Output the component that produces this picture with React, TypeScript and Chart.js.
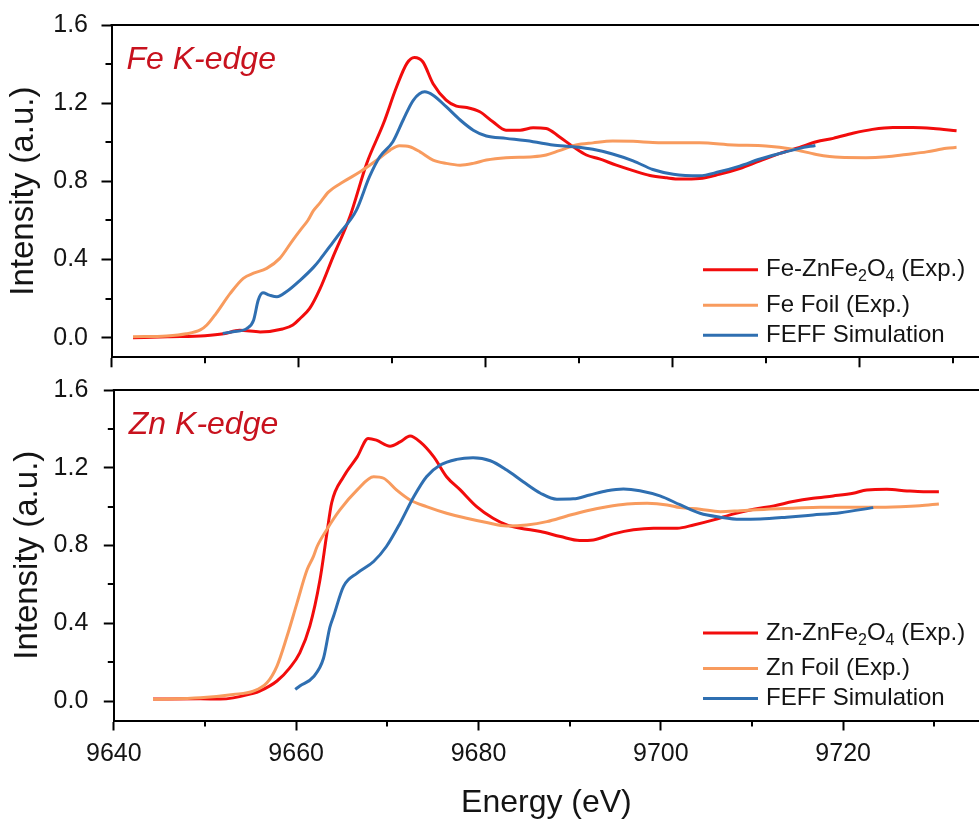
import React, { useEffect, useRef } from 'react';
import { Chart, registerables } from 'chart.js';

Chart.register(...registerables);

// ---- axis settings ----
const X_MIN = 9640;
const TOP_X_MAX = 9732.8;
const BOTTOM_X_MAX = 9734.9;
const X_STEP = 10;
const X_MAJOR = 20;
const Y_MIN = -0.1;
const Y_MAX = 1.6;
const Y_STEP = 0.2;
const Y_MAJOR = 0.4;

// ---- Fe K-edge panel ----
const FE_SAMPLE_E = [9642.3, 9646.0, 9650.0, 9652.0, 9653.7, 9655.9, 9658.3, 9659.4, 9660.2, 9661.2, 9662.3, 9663.7, 9665.5, 9667.3, 9669.1, 9670.5, 9671.6, 9672.4, 9673.3, 9674.4, 9675.8, 9676.9, 9678.0, 9679.4, 9680.8, 9682.2, 9683.7, 9685.1, 9686.5, 9687.9, 9689.4, 9690.8, 9692.2, 9694.0, 9695.8, 9697.6, 9699.4, 9700.8, 9702.9, 9705.0, 9707.2, 9709.3, 9711.5, 9713.6, 9715.4, 9717.2, 9719.3, 9721.4, 9723.6, 9725.7, 9727.9, 9730.4];
const FE_SAMPLE_I = [0.000, 0.005, 0.010, 0.020, 0.038, 0.030, 0.045, 0.065, 0.100, 0.150, 0.250, 0.414, 0.619, 0.892, 1.097, 1.284, 1.404, 1.434, 1.412, 1.300, 1.216, 1.185, 1.178, 1.156, 1.105, 1.062, 1.062, 1.074, 1.071, 1.028, 0.977, 0.935, 0.915, 0.883, 0.855, 0.830, 0.818, 0.812, 0.815, 0.836, 0.866, 0.904, 0.943, 0.974, 1.003, 1.020, 1.046, 1.066, 1.076, 1.076, 1.071, 1.059];

const FE_FOIL_E = [9642.3, 9645.9, 9648.0, 9649.5, 9650.2, 9651.2, 9652.7, 9654.1, 9655.2, 9656.6, 9658.0, 9659.4, 9660.2, 9661.0, 9661.6, 9662.3, 9663.2, 9664.8, 9666.6, 9668.4, 9669.8, 9670.8, 9671.9, 9673.0, 9674.4, 9675.8, 9677.3, 9678.7, 9680.1, 9682.2, 9685.1, 9686.5, 9687.9, 9689.7, 9691.5, 9693.6, 9695.8, 9697.9, 9700.8, 9702.9, 9706.5, 9710.0, 9712.9, 9715.4, 9717.9, 9720.7, 9722.9, 9725.0, 9727.2, 9729.3, 9730.4];
const FE_FOIL_I = [0.005, 0.009, 0.020, 0.040, 0.065, 0.125, 0.227, 0.304, 0.330, 0.355, 0.406, 0.500, 0.551, 0.600, 0.650, 0.690, 0.745, 0.798, 0.849, 0.909, 0.960, 0.982, 0.977, 0.951, 0.909, 0.892, 0.883, 0.892, 0.909, 0.921, 0.926, 0.935, 0.957, 0.986, 0.997, 1.006, 1.005, 0.999, 0.997, 0.997, 0.986, 0.981, 0.964, 0.938, 0.923, 0.921, 0.926, 0.938, 0.951, 0.969, 0.974];

const FE_FEFF_E = [9651.9, 9653.0, 9654.5, 9655.2, 9655.7, 9656.2, 9656.9, 9657.7, 9658.7, 9660.2, 9661.6, 9662.3, 9663.4, 9664.4, 9666.2, 9667.6, 9668.7, 9670.1, 9671.2, 9672.3, 9673.5, 9674.4, 9675.8, 9677.3, 9678.7, 9680.1, 9682.2, 9685.1, 9687.2, 9689.4, 9691.5, 9693.6, 9695.8, 9697.9, 9700.1, 9702.9, 9705.0, 9707.2, 9709.3, 9711.5, 9713.6, 9715.3];
const FE_FEFF_I = [0.022, 0.031, 0.048, 0.090, 0.193, 0.230, 0.218, 0.210, 0.235, 0.295, 0.360, 0.400, 0.470, 0.534, 0.653, 0.824, 0.926, 1.003, 1.114, 1.216, 1.258, 1.241, 1.182, 1.114, 1.062, 1.032, 1.020, 1.003, 0.986, 0.977, 0.964, 0.940, 0.905, 0.861, 0.837, 0.829, 0.849, 0.878, 0.913, 0.943, 0.969, 0.984];

// ---- Zn K-edge panel ----
const ZN_SAMPLE_E = [9644.3, 9649.5, 9651.7, 9655.3, 9656.0, 9657.9, 9659.3, 9660.4, 9661.5, 9662.6, 9663.35, 9663.9, 9665.2, 9666.7, 9667.9, 9668.8, 9670.3, 9671.4, 9672.5, 9673.6, 9675.1, 9676.5, 9678.0, 9679.8, 9681.6, 9683.1, 9684.6, 9686.8, 9689.0, 9691.1, 9692.6, 9694.8, 9697.0, 9699.2, 9701.8, 9703.6, 9705.8, 9708.0, 9710.2, 9712.4, 9714.5, 9716.7, 9718.9, 9721.1, 9722.6, 9724.8, 9727.0, 9728.8, 9730.5];
const ZN_SAMPLE_I = [0.010, 0.012, 0.010, 0.040, 0.051, 0.103, 0.171, 0.248, 0.385, 0.620, 0.855, 1.020, 1.154, 1.256, 1.351, 1.342, 1.311, 1.333, 1.363, 1.333, 1.256, 1.154, 1.086, 1.000, 0.940, 0.906, 0.889, 0.872, 0.846, 0.826, 0.829, 0.860, 0.881, 0.889, 0.889, 0.906, 0.932, 0.963, 0.987, 1.004, 1.026, 1.043, 1.055, 1.069, 1.086, 1.089, 1.081, 1.077, 1.077];

const ZN_FOIL_E = [9644.3, 9649.5, 9653.1, 9655.3, 9656.8, 9657.9, 9659.0, 9660.1, 9661.2, 9661.9, 9662.3, 9663.4, 9664.8, 9666.7, 9668.5, 9669.6, 9671.0, 9672.5, 9674.3, 9676.5, 9678.7, 9680.9, 9683.1, 9685.3, 9687.5, 9689.7, 9691.9, 9694.1, 9696.3, 9698.5, 9700.7, 9702.1, 9704.3, 9706.5, 9708.7, 9711.6, 9714.5, 9717.5, 9720.4, 9723.3, 9726.3, 9728.4, 9730.5];
const ZN_FOIL_I = [0.009, 0.017, 0.034, 0.051, 0.094, 0.180, 0.333, 0.505, 0.675, 0.744, 0.795, 0.885, 0.983, 1.086, 1.154, 1.146, 1.086, 1.034, 1.000, 0.966, 0.940, 0.918, 0.901, 0.906, 0.923, 0.952, 0.979, 1.000, 1.014, 1.017, 1.009, 0.995, 0.987, 0.974, 0.979, 0.987, 0.992, 0.997, 0.997, 0.997, 1.000, 1.005, 1.014];

const ZN_FEFF_E = [9659.9, 9660.4, 9661.9, 9663.0, 9663.7, 9664.1, 9665.2, 9666.7, 9668.5, 9669.9, 9671.4, 9672.9, 9674.3, 9675.8, 9677.6, 9679.4, 9681.3, 9683.1, 9684.9, 9686.8, 9688.6, 9690.4, 9692.2, 9694.1, 9695.9, 9697.7, 9699.9, 9702.1, 9704.3, 9706.5, 9708.7, 9710.9, 9713.8, 9716.7, 9719.7, 9723.3];
const ZN_FEFF_I = [0.060, 0.077, 0.125, 0.220, 0.380, 0.436, 0.590, 0.658, 0.718, 0.795, 0.915, 1.051, 1.154, 1.214, 1.243, 1.251, 1.236, 1.188, 1.128, 1.069, 1.038, 1.040, 1.060, 1.082, 1.091, 1.082, 1.055, 1.010, 0.966, 0.946, 0.935, 0.937, 0.946, 0.957, 0.969, 0.995];

// ---- labels ----
const FE_TITLE = 'Fe K-edge';
const ZN_TITLE = 'Zn K-edge';
const FE_LABELS = ['Fe-ZnFe₂O₄ (Exp.)', 'Fe Foil (Exp.)', 'FEFF Simulation'];
const ZN_LABELS = ['Zn-ZnFe₂O₄ (Exp.)', 'Zn Foil (Exp.)', 'FEFF Simulation'];
const X_TITLE = 'Energy (eV)';
const Y_TITLE = 'Intensity (a.u.)';

const COLORS = ['#f20c0c', '#f89b5e', '#2f6fb1'];
const TITLE_COLOR = '#c8121e';
const TEXT_COLOR = '#141414';
const FONT = '"Liberation Sans", Arial, Helvetica, sans-serif';
const TICK_SIZE = 25;

Chart.defaults.font.family = FONT;

const zip = (xs: number[], ys: number[]) => {
  const n = Math.min(xs.length, ys.length);
  const out: { x: number; y: number }[] = [];
  for (let i = 0; i < n; i++) out.push({ x: xs[i], y: ys[i] });
  return out;
};

const isMultiple = (v: number, m: number) => Math.abs(v / m - Math.round(v / m)) < 1e-6;

const SUB: Record<string, string> = { '₀': '0', '₁': '1', '₂': '2', '₃': '3', '₄': '4', '₅': '5', '₆': '6', '₇': '7', '₈': '8', '₉': '9' };

function drawRich(ctx: CanvasRenderingContext2D, text: string, x: number, y: number, size: number) {
  let cx = x;
  for (const ch of text) {
    if (SUB[ch]) {
      ctx.font = `${Math.round(size * 0.66)}px ${FONT}`;
      ctx.fillText(SUB[ch], cx, y + size * 0.3);
      cx += ctx.measureText(SUB[ch]).width;
    } else {
      ctx.font = `${size}px ${FONT}`;
      ctx.fillText(ch, cx, y);
      cx += ctx.measureText(ch).width;
    }
  }
}

function panelPlugin(title: string, labels: string[]) {
  return {
    id: 'panelDecor',
    afterDraw(chart: any) {
      const { ctx, chartArea: a, scales } = chart;
      const xs = scales.x;
      const ys = scales.y;
      ctx.save();
      // top frame line
      ctx.strokeStyle = '#000';
      ctx.lineWidth = 2;
      ctx.beginPath();
      ctx.moveTo(a.left - 1, a.top);
      ctx.lineTo(a.right, a.top);
      ctx.stroke();
      // minor ticks
      ctx.beginPath();
      xs.ticks.forEach((t: any) => {
        if (isMultiple(t.value, X_STEP) && !isMultiple(t.value, X_MAJOR)) {
          const px = Math.round(xs.getPixelForValue(t.value));
          ctx.moveTo(px, a.bottom);
          ctx.lineTo(px, a.bottom + 6);
        }
      });
      ys.ticks.forEach((t: any) => {
        if (isMultiple(t.value, Y_STEP) && !isMultiple(t.value, Y_MAJOR)) {
          const py = Math.round(ys.getPixelForValue(t.value));
          ctx.moveTo(a.left, py);
          ctx.lineTo(a.left - 6, py);
        }
      });
      ctx.stroke();
      // panel title
      ctx.fillStyle = TITLE_COLOR;
      ctx.font = `italic 32px ${FONT}`;
      ctx.textBaseline = 'alphabetic';
      ctx.textAlign = 'left';
      ctx.fillText(title, a.left + 15, a.top + 44);
      // legend
      const rows = [-87.5, -52, -22];
      ctx.textBaseline = 'middle';
      labels.forEach((lab, i) => {
        const y = a.bottom + rows[i];
        ctx.strokeStyle = COLORS[i];
        ctx.lineWidth = 3;
        ctx.beginPath();
        ctx.moveTo(a.right - 276, y);
        ctx.lineTo(a.right - 221, y);
        ctx.stroke();
        ctx.fillStyle = TEXT_COLOR;
        drawRich(ctx, lab, a.right - 213, y, 24);
      });
      ctx.restore();
    },
  };
}

function buildConfig(opts: {
  data: { x: number; y: number }[][];
  labels: string[];
  title: string;
  xMax: number;
  showX: boolean;
  yWidth: number;
  xHeight: number;
  topPad: number;
  yTickPad: number;
  yTitlePad: number;
}) {
  const datasets = opts.data.map((d, i) => ({
    label: opts.labels[i],
    data: d,
    borderColor: COLORS[i],
    backgroundColor: COLORS[i],
    borderWidth: 3,
    pointRadius: 0,
    fill: false,
    cubicInterpolationMode: 'monotone' as const,
    order: 2 - i,
  }));
  const noPad = (s: any) => {
    s.paddingTop = 0;
    s.paddingBottom = 0;
    s.paddingLeft = 0;
    s.paddingRight = 0;
  };
  return {
    type: 'line' as const,
    data: { datasets },
    plugins: [panelPlugin(opts.title, opts.labels)],
    options: {
      responsive: false,
      maintainAspectRatio: false,
      animation: false as const,
      devicePixelRatio: 1,
      layout: { padding: { top: opts.topPad, left: 0, right: 0, bottom: 0 } },
      plugins: { legend: { display: false }, tooltip: { enabled: false } },
      scales: {
        x: {
          type: 'linear' as const,
          min: X_MIN,
          max: opts.xMax,
          offset: false,
          border: { display: true, color: '#000', width: 2 },
          grid: {
            drawOnChartArea: false,
            drawTicks: true,
            tickLength: 10,
            tickWidth: 2,
            color: 'rgba(0,0,0,0)',
            tickColor: (c: any) => (c.tick && isMultiple(c.tick.value, X_MAJOR) ? '#000' : 'rgba(0,0,0,0)'),
          },
          ticks: {
            stepSize: X_STEP,
            includeBounds: false,
            autoSkip: false,
            maxRotation: 0,
            minRotation: 0,
            padding: 9,
            color: TEXT_COLOR,
            font: { size: TICK_SIZE },
            callback: (v: any) => (opts.showX && isMultiple(Number(v), X_MAJOR) ? String(v) : ''),
          },
          title: {
            display: opts.showX,
            text: X_TITLE,
            color: TEXT_COLOR,
            font: { size: 32 },
            padding: { top: 0, bottom: 2.5 },
          },
          afterFit: (s: any) => {
            s.height = opts.xHeight;
            noPad(s);
          },
        },
        y: {
          type: 'linear' as const,
          min: Y_MIN,
          max: Y_MAX,
          border: { display: true, color: '#000', width: 2 },
          grid: {
            drawOnChartArea: false,
            drawTicks: true,
            tickLength: 10,
            tickWidth: 2,
            color: 'rgba(0,0,0,0)',
            tickColor: (c: any) => (c.tick && isMultiple(c.tick.value, Y_MAJOR) ? '#000' : 'rgba(0,0,0,0)'),
          },
          ticks: {
            stepSize: Y_STEP,
            includeBounds: false,
            autoSkip: false,
            padding: opts.yTickPad,
            color: TEXT_COLOR,
            font: { size: TICK_SIZE },
            callback: (v: any) => (isMultiple(Number(v), Y_MAJOR) ? Number(v).toFixed(1) : ''),
          },
          title: {
            display: true,
            text: Y_TITLE,
            color: TEXT_COLOR,
            font: { size: 33 },
            padding: { top: opts.yTitlePad, bottom: 0 },
          },
          afterFit: (s: any) => {
            s.width = opts.yWidth;
            noPad(s);
          },
        },
      },
    },
  };
}

const TOP_H = 375;
const BOT_TOP = 362;
const BOT_H = 463;

export default function App() {
  const topRef = useRef<HTMLCanvasElement>(null);
  const botRef = useRef<HTMLCanvasElement>(null);

  useEffect(() => {
    const top = new Chart(
      topRef.current as HTMLCanvasElement,
      buildConfig({
        data: [zip(FE_SAMPLE_E, FE_SAMPLE_I), zip(FE_FOIL_E, FE_FOIL_I), zip(FE_FEFF_E, FE_FEFF_I)],
        labels: FE_LABELS,
        title: FE_TITLE,
        xMax: TOP_X_MAX,
        showX: false,
        yWidth: 111.5,
        xHeight: TOP_H - 357.3,
        topPad: 25,
        yTickPad: 13.5,
        yTitlePad: 4,
      }) as any
    );
    const bot = new Chart(
      botRef.current as HTMLCanvasElement,
      buildConfig({
        data: [zip(ZN_SAMPLE_E, ZN_SAMPLE_I), zip(ZN_FOIL_E, ZN_FOIL_I), zip(ZN_FEFF_E, ZN_FEFF_I)],
        labels: ZN_LABELS,
        title: ZN_TITLE,
        xMax: BOTTOM_X_MAX,
        showX: true,
        yWidth: 113.8,
        xHeight: BOT_H - (720.5 - BOT_TOP),
        topPad: 390 - BOT_TOP,
        yTickPad: 15.5,
        yTitlePad: 8,
      }) as any
    );
    return () => {
      top.destroy();
      bot.destroy();
    };
  }, []);

  return (
    <div style={{ position: 'absolute', left: 0, top: 0, width: 979, height: 825, background: '#fff', overflow: 'hidden' }}>
      <canvas ref={topRef} width={979} height={TOP_H} style={{ position: 'absolute', left: 0, top: 0 }} />
      <canvas ref={botRef} width={979} height={BOT_H} style={{ position: 'absolute', left: 0, top: BOT_TOP }} />
    </div>
  );
}
